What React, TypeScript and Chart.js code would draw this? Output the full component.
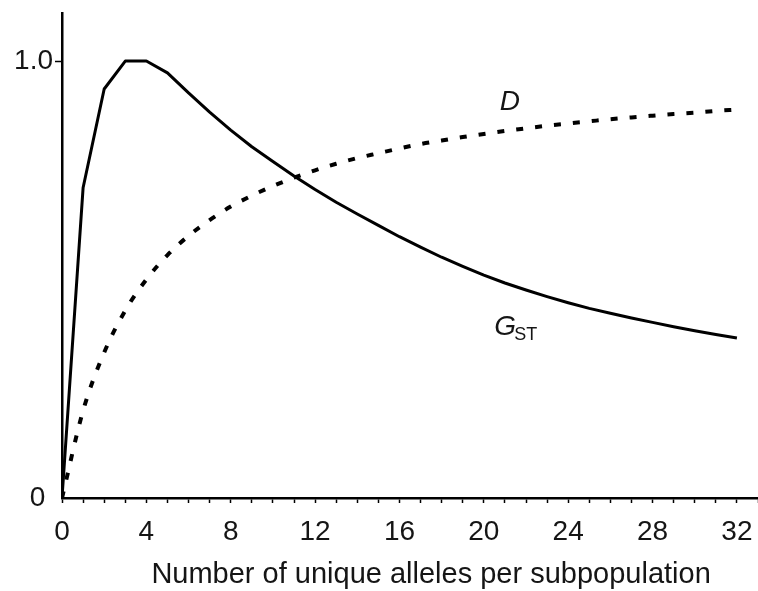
import React, { useEffect, useRef } from 'react';
import { Chart, registerables } from 'chart.js';

Chart.register(...registerables);

// Number of unique alleles per subpopulation
const alleles = [
  0, 1, 2, 3, 4, 5, 6, 7, 8, 9, 10, 11, 12, 13, 14, 15, 16,
  17, 18, 19, 20, 21, 22, 23, 24, 25, 26, 27, 28, 29, 30, 31, 32,
];
// G_ST (solid line)
const gstValues = [
  0, 0.71, 0.936, 1.0, 1.0, 0.973, 0.927, 0.883, 0.842, 0.804, 0.77,
  0.737, 0.706, 0.677, 0.65, 0.624, 0.598, 0.574, 0.551, 0.53, 0.51,
  0.492, 0.476, 0.461, 0.447, 0.434, 0.423, 0.412, 0.402, 0.392, 0.383,
  0.374, 0.366,
];
// D (dotted line)
const dValues = [
  0, 0.2, 0.333, 0.429, 0.5, 0.556, 0.6, 0.636, 0.667, 0.692, 0.714,
  0.733, 0.75, 0.765, 0.778, 0.789, 0.8, 0.81, 0.818, 0.826, 0.833,
  0.84, 0.846, 0.852, 0.857, 0.862, 0.867, 0.871, 0.875, 0.879, 0.882,
  0.886, 0.889,
];
const xLabeledTicks = [0, 4, 8, 12, 16, 20, 24, 28, 32];
const yTickValues = [0, 1];
const yTickLabels = ['0 ', '1.0'];
const xAxisTitle = 'Number of unique alleles per subpopulation';

const FONT = '"Liberation Sans", Arial, Helvetica, sans-serif';
const TEXT = '#151515';

// annotation anchors in data coordinates
const dLabelAt = { x: 20.75, y: 0.888 };
const gLabelAt = { x: 20.5, y: 0.373 };
const titleCenterX = 17.5;

const labelsPlugin = {
  id: 'curveLabels',
  afterDraw(chart: any) {
    const { ctx, scales } = chart;
    const xs = scales.x;
    const ys = scales.y;
    ctx.save();
    ctx.fillStyle = TEXT;
    ctx.textBaseline = 'alphabetic';
    ctx.textAlign = 'left';
    // D
    ctx.font = `italic 28px ${FONT}`;
    ctx.fillText('D', xs.getPixelForValue(dLabelAt.x), ys.getPixelForValue(dLabelAt.y));
    // G_ST
    const gx = xs.getPixelForValue(gLabelAt.x);
    const gy = ys.getPixelForValue(gLabelAt.y);
    ctx.fillText('G', gx, gy);
    const gw = ctx.measureText('G').width;
    ctx.font = `18px ${FONT}`;
    ctx.fillText('ST', gx + gw - 2, gy + 5);
    // x axis title
    ctx.font = `29px ${FONT}`;
    ctx.textAlign = 'center';
    ctx.fillText(xAxisTitle, xs.getPixelForValue(titleCenterX), 583);
    ctx.restore();
  },
};

export default function App() {
  const canvasRef = useRef<HTMLCanvasElement | null>(null);

  useEffect(() => {
    const canvas = canvasRef.current;
    if (!canvas) return;
    const chart = new Chart(canvas, {
      type: 'line',
      data: {
        datasets: [
          {
            label: 'GST',
            data: alleles.map((a, i) => ({ x: a, y: gstValues[i] })),
            borderColor: '#000',
            borderWidth: 3,
            pointRadius: 0,
            tension: 0,
            fill: false,
            borderJoinStyle: 'round',
          },
          {
            label: 'D',
            data: alleles.map((a, i) => ({ x: a, y: dValues[i] })),
            borderColor: '#000',
            borderWidth: 4,
            borderDash: [7, 12],
            borderCapStyle: 'butt',
            pointRadius: 0,
            cubicInterpolationMode: 'monotone',
            fill: false,
          },
        ],
      },
      options: {
        animation: false,
        responsive: false,
        events: [],
        layout: { padding: { top: 13, right: 0, left: 0, bottom: 0 } },
        plugins: {
          legend: { display: false },
          tooltip: { enabled: false },
          title: { display: false },
        },
        scales: {
          x: {
            type: 'linear',
            min: 0,
            max: 33,
            afterFit: (scale: any) => {
              scale.height = 93;
              scale.paddingLeft = 0;
              scale.paddingRight = 0;
            },
            border: { display: true, color: '#000', width: 2.5 },
            grid: {
              drawOnChartArea: false,
              drawTicks: true,
              tickLength: 5,
              tickColor: '#000',
              tickWidth: 1.5,
            },
            ticks: {
              stepSize: 1,
              autoSkip: false,
              maxRotation: 0,
              padding: 12,
              color: TEXT,
              font: { family: FONT, size: 28 },
              callback: (v: any) => (xLabeledTicks.includes(Number(v)) ? String(v) : ''),
            },
          },
          y: {
            type: 'linear',
            min: 0,
            max: 1.11,
            afterFit: (scale: any) => {
              scale.width = 62;
              scale.paddingTop = 0;
              scale.paddingBottom = 0;
            },
            afterBuildTicks: (scale: any) => {
              scale.ticks = yTickValues.map((v) => ({ value: v }));
            },
            border: { display: true, color: '#000', width: 2.5 },
            grid: {
              drawOnChartArea: false,
              drawTicks: true,
              tickLength: 7,
              tickColor: (c: any) => (c.tick && c.tick.value === 0 ? 'rgba(0,0,0,0)' : '#000'),
              tickWidth: 1.5,
            },
            ticks: {
              padding: 2,
              color: TEXT,
              font: { family: FONT, size: 28 },
              callback: (v: any) => {
                const i = yTickValues.indexOf(Number(v));
                return i >= 0 ? yTickLabels[i] : '';
              },
            },
          },
        },
      },
      plugins: [labelsPlugin],
    } as any);
    return () => chart.destroy();
  }, []);

  return (
    <div style={{ position: 'fixed', left: 0, top: 0, width: 758, height: 591, background: '#fff' }}>
      <canvas ref={canvasRef} width={758} height={591} style={{ display: 'block' }} />
    </div>
  );
}
